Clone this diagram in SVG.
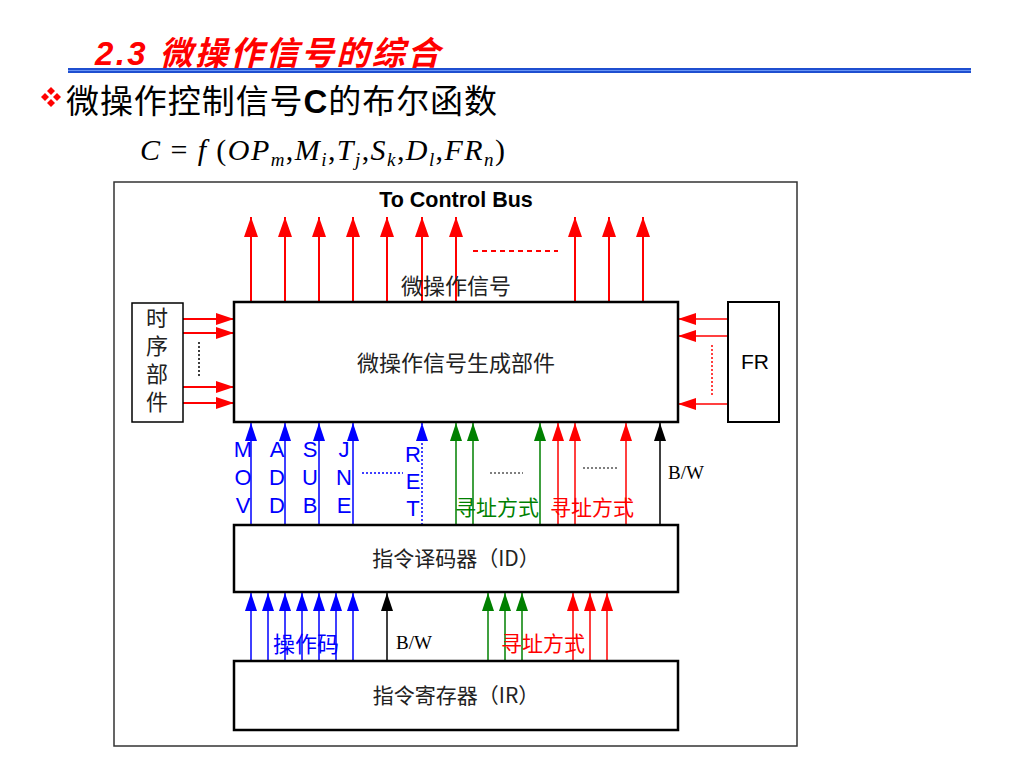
<svg xmlns="http://www.w3.org/2000/svg" width="1024" height="768" viewBox="0 0 1024 768">
<style>
.box{fill:#fff;stroke:#000;stroke-width:2.5}
.cjk{font-family:"Noto Sans CJK SC","Noto Sans",sans-serif;dominant-baseline:central;text-anchor:middle}
.lat{font-family:"Liberation Sans",Arial,sans-serif}
.ser{font-family:"Liberation Serif","Times New Roman",serif}
.r{stroke:#ff0000;fill:none}
.b{stroke:#0000ff;fill:none}
.g{stroke:#008000;fill:none}
.k{stroke:#000;fill:none}
</style>
<defs>
<marker id="aRL" viewBox="0 0 20 14" markerWidth="20" markerHeight="14" refX="20" refY="7" orient="auto" markerUnits="userSpaceOnUse"><path d="M0,0 L20,7 L0,14 z" fill="#ff0000"/></marker>
<marker id="aR" viewBox="0 0 18 12" markerWidth="18" markerHeight="12" refX="18" refY="6" orient="auto" markerUnits="userSpaceOnUse"><path d="M0,0 L18,6 L0,12 z" fill="#ff0000"/></marker>
<marker id="aB" viewBox="0 0 18 12" markerWidth="18" markerHeight="12" refX="18" refY="6" orient="auto" markerUnits="userSpaceOnUse"><path d="M0,0 L18,6 L0,12 z" fill="#0000ff"/></marker>
<marker id="aG" viewBox="0 0 18 12" markerWidth="18" markerHeight="12" refX="18" refY="6" orient="auto" markerUnits="userSpaceOnUse"><path d="M0,0 L18,6 L0,12 z" fill="#008000"/></marker>
<marker id="aK" viewBox="0 0 18 12" markerWidth="18" markerHeight="12" refX="18" refY="6" orient="auto" markerUnits="userSpaceOnUse"><path d="M0,0 L18,6 L0,12 z" fill="#000"/></marker>
</defs>
<rect width="1024" height="768" fill="#fff"/>

<!-- header -->
<g id="title">
<text x="95" y="65" font-family="Liberation Sans, Noto Sans CJK SC, sans-serif" font-size="33" font-weight="bold" font-style="italic" fill="#ff0000" textLength="345" lengthAdjust="spacing">2.3 微操作信号的综合</text>
<rect x="68" y="68" width="903" height="5" fill="#1f4fd0"/>
<line x1="68" y1="70.5" x2="971" y2="70.5" stroke="#6a95f5" stroke-width="1"/>
</g>
<g id="bullet" fill="#ff0000">
<path d="M51,87 L55,91 L51,95 L47,91 z"/>
<path d="M45,93 L49,97 L45,101 L41,97 z"/>
<path d="M57,93 L61,97 L57,101 L53,97 z"/>
<path d="M51,99 L55,103 L51,107 L47,103 z"/>
</g>
<text id="heading" x="66" y="113" font-family="Noto Sans CJK SC, sans-serif" font-size="33" fill="#000" textLength="431" lengthAdjust="spacing">微操作控制信号<tspan font-family="Liberation Sans, Arial, sans-serif" font-weight="bold">C</tspan>的布尔函数</text>
<text id="formula" x="140" y="160" class="ser" font-size="30" font-style="italic" fill="#000" textLength="365" lengthAdjust="spacing">C <tspan font-style="normal">=</tspan> f <tspan font-style="normal">(</tspan>OP<tspan font-size="19" dy="6">m</tspan><tspan font-style="normal" dy="-6">,</tspan>M<tspan font-size="19" dy="6">i</tspan><tspan font-style="normal" dy="-6">,</tspan>T<tspan font-size="19" dy="6">j</tspan><tspan font-style="normal" dy="-6">,</tspan>S<tspan font-size="19" dy="6">k</tspan><tspan font-style="normal" dy="-6">,</tspan>D<tspan font-size="19" dy="6">l</tspan><tspan font-style="normal" dy="-6">,</tspan>FR<tspan font-size="19" dy="6">n</tspan><tspan font-style="normal" dy="-6">)</tspan></text>

<!-- outer frame -->
<rect id="frame" x="114" y="182" width="683" height="564" fill="none" stroke="#333" stroke-width="1.5"/>
<text id="bus-label" x="456" y="207" class="lat" font-size="21.5" font-weight="bold" text-anchor="middle" fill="#000">To Control Bus</text>

<g id="connectors">
<!-- control bus outputs -->
<g class="r" stroke-width="2" marker-end="url(#aRL)">
<line x1="251" y1="302" x2="251" y2="217"/>
<line x1="285" y1="302" x2="285" y2="217"/>
<line x1="319" y1="302" x2="319" y2="217"/>
<line x1="353" y1="302" x2="353" y2="217"/>
<line x1="387" y1="302" x2="387" y2="217"/>
<line x1="422" y1="302" x2="422" y2="217"/>
<line x1="456" y1="302" x2="456" y2="217"/>
<line x1="575" y1="302" x2="575" y2="217"/>
<line x1="609" y1="302" x2="609" y2="217"/>
<line x1="643" y1="302" x2="643" y2="217"/>
</g>
<line x1="473" y1="251" x2="558" y2="251" class="r" stroke-width="2" stroke-dasharray="5,4"/>
<!-- timing inputs -->
<g class="r" stroke-width="2" marker-end="url(#aR)">
<line x1="183" y1="319" x2="234" y2="319"/>
<line x1="183" y1="333" x2="234" y2="333"/>
<line x1="183" y1="387" x2="234" y2="387"/>
<line x1="183" y1="403" x2="234" y2="403"/>
</g>
<line x1="199" y1="342" x2="199" y2="377" class="k" stroke-width="1.5" stroke-dasharray="2,2"/>
<!-- FR inputs -->
<g class="r" stroke-width="1.5" marker-end="url(#aR)">
<line x1="728" y1="319" x2="678" y2="319"/>
<line x1="728" y1="336" x2="678" y2="336"/>
<line x1="728" y1="404" x2="678" y2="404"/>
</g>
<line x1="712" y1="345" x2="712" y2="397" class="r" stroke-width="1.5" stroke-dasharray="2,2"/>
<!-- ID to main -->
<g stroke-width="1.5">
<line x1="251" y1="525" x2="251" y2="423" class="b" marker-end="url(#aB)"/>
<line x1="285" y1="525" x2="285" y2="423" class="b" marker-end="url(#aB)"/>
<line x1="319" y1="525" x2="319" y2="423" class="b" marker-end="url(#aB)"/>
<line x1="353" y1="525" x2="353" y2="423" class="b" marker-end="url(#aB)"/>
<line x1="422" y1="525" x2="422" y2="423" class="b" stroke-dasharray="2,2" marker-end="url(#aB)"/>
<line x1="456" y1="525" x2="456" y2="423" class="g" marker-end="url(#aG)"/>
<line x1="473" y1="525" x2="473" y2="423" class="g" marker-end="url(#aG)"/>
<line x1="540" y1="525" x2="540" y2="423" class="g" marker-end="url(#aG)"/>
<line x1="558" y1="525" x2="558" y2="423" class="r" marker-end="url(#aR)"/>
<line x1="575" y1="525" x2="575" y2="423" class="r" marker-end="url(#aR)"/>
<line x1="626" y1="525" x2="626" y2="423" class="r" marker-end="url(#aR)"/>
<line x1="660" y1="525" x2="660" y2="423" class="k" marker-end="url(#aK)"/>
</g>
<line x1="362" y1="473" x2="403" y2="473" class="b" stroke-width="1.5" stroke-dasharray="2,2"/>
<line x1="490" y1="473" x2="523" y2="473" class="k" stroke-width="1.2" stroke-dasharray="2,2"/>
<line x1="583" y1="468" x2="618" y2="468" class="k" stroke-width="1.2" stroke-dasharray="2,2"/>
<!-- IR to ID -->
<g stroke-width="1.5">
<line x1="251" y1="661" x2="251" y2="593" class="b" marker-end="url(#aB)"/>
<line x1="268" y1="661" x2="268" y2="593" class="b" marker-end="url(#aB)"/>
<line x1="285" y1="661" x2="285" y2="593" class="b" marker-end="url(#aB)"/>
<line x1="302" y1="661" x2="302" y2="593" class="b" marker-end="url(#aB)"/>
<line x1="319" y1="661" x2="319" y2="593" class="b" marker-end="url(#aB)"/>
<line x1="336" y1="661" x2="336" y2="593" class="b" marker-end="url(#aB)"/>
<line x1="353" y1="661" x2="353" y2="593" class="b" marker-end="url(#aB)"/>
<line x1="387" y1="661" x2="387" y2="593" class="k" marker-end="url(#aK)"/>
<line x1="488" y1="661" x2="488" y2="593" class="g" marker-end="url(#aG)"/>
<line x1="505" y1="661" x2="505" y2="593" class="g" marker-end="url(#aG)"/>
<line x1="522" y1="661" x2="522" y2="593" class="g" marker-end="url(#aG)"/>
<line x1="573" y1="661" x2="573" y2="593" class="r" marker-end="url(#aR)"/>
<line x1="590" y1="661" x2="590" y2="593" class="r" marker-end="url(#aR)"/>
<line x1="607" y1="661" x2="607" y2="593" class="r" marker-end="url(#aR)"/>
</g>
</g>

<!-- connector labels -->
<text x="456" y="284" class="cjk" font-size="22" fill="#222">微操作信号</text>
<g class="lat" font-size="22" fill="#0000ff" text-anchor="middle">
<text x="243" y="457">M</text><text x="243" y="485">O</text><text x="243" y="513">V</text>
<text x="277" y="457">A</text><text x="277" y="485">D</text><text x="277" y="513">D</text>
<text x="310" y="457">S</text><text x="310" y="485">U</text><text x="310" y="513">B</text>
<text x="344" y="457">J</text><text x="344" y="485">N</text><text x="344" y="513">E</text>
<text x="413" y="462">R</text><text x="413" y="489">E</text><text x="413" y="516">T</text>
</g>
<text x="497" y="506" class="cjk" font-size="21" fill="#008000">寻址方式</text>
<text x="592" y="506" class="cjk" font-size="21" fill="#ff0000">寻址方式</text>
<text x="668" y="479" class="ser" font-size="19" fill="#000">B/W</text>
<text x="306" y="642" class="cjk" font-size="22" fill="#0000ff">操作码</text>
<text x="396" y="649" class="ser" font-size="19" fill="#000">B/W</text>
<text x="543" y="642" class="cjk" font-size="21" fill="#ff0000">寻址方式</text>

<!-- nodes -->
<g id="gen">
<rect x="234" y="302" width="444" height="120" class="box"/>
<text x="456" y="361" class="cjk" font-size="22" fill="#222">微操作信号生成部件</text>
</g>
<g id="timing">
<rect x="132" y="303" width="51" height="119" fill="#fff" stroke="#000" stroke-width="1.5"/>
<text x="157" y="307" font-family="Noto Sans CJK SC, sans-serif" font-size="22" fill="#222" writing-mode="tb" letter-spacing="6">时序部件</text>
</g>
<g id="fr">
<rect x="728" y="302" width="51" height="120" fill="#fff" stroke="#000" stroke-width="2"/>
<text x="755" y="369" class="lat" font-size="21" fill="#000" text-anchor="middle">FR</text>
</g>
<g id="id">
<rect x="234" y="525" width="444" height="67" class="box"/>
<text x="456" y="557" class="cjk" font-size="21" fill="#222">指令译码器（ID）</text>
</g>
<g id="ir">
<rect x="234" y="661" width="444" height="69" class="box"/>
<text x="456" y="694" class="cjk" font-size="21" fill="#222">指令寄存器（IR）</text>
</g>
</svg>
